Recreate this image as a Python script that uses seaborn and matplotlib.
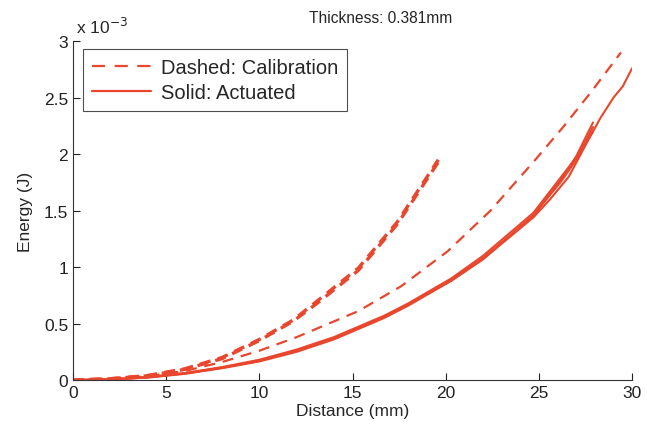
import matplotlib
matplotlib.use("Agg")
import matplotlib.pyplot as plt
import seaborn as sns
import pandas as pd
from matplotlib.lines import Line2D

RED = '#E8472E'

# calibration runs (dashed), energy in mJ
cal_steep_x = [0, 2, 4, 6, 8, 10, 11.8, 13.1, 15.3, 17.4, 19.6]
cal_steep_a = [0, 0.012, 0.04, 0.10, 0.20, 0.36, 0.53, 0.70, 0.99, 1.40, 1.95]
cal_steep_b = [0, 0.011, 0.038, 0.095, 0.19, 0.35, 0.52, 0.68, 0.97, 1.38, 1.93]

cal_flat_x = [0, 2, 4, 6, 8, 10, 12, 15.3, 17.6, 20.1, 22.4, 24.7, 26.3, 27.8, 29.4]
cal_flat_e = [0, 0.01, 0.035, 0.08, 0.16, 0.26, 0.38, 0.61, 0.83, 1.14, 1.50, 1.93, 2.24, 2.55, 2.90]

# actuated runs (solid)
act_x = [0, 2, 4, 6, 8, 10, 12, 14, 16.7, 18, 20.3, 22, 24.7, 26.2, 27.0, 27.9]
act_1 = [0, 0.005, 0.025, 0.06, 0.11, 0.17, 0.26, 0.37, 0.56, 0.67, 0.89, 1.08, 1.45, 1.78, 1.98, 2.28]
act_2 = [0, 0.006, 0.027, 0.062, 0.115, 0.18, 0.27, 0.38, 0.57, 0.68, 0.90, 1.10, 1.48, 1.80, 1.97, 2.20]
act_3 = [0, 0.004, 0.022, 0.055, 0.105, 0.165, 0.25, 0.36, 0.55, 0.66, 0.88, 1.07, 1.46, 1.76, 1.95, 2.24]

act_long_x = [0, 2, 4, 6, 8, 10, 12, 14, 16.7, 18, 20.3, 22, 24.7, 25.6, 26.6, 27.6, 28.3, 29.0, 29.5, 30.0]
act_long_e = [0, 0.005, 0.024, 0.058, 0.11, 0.17, 0.26, 0.37, 0.56, 0.67, 0.88, 1.07, 1.44, 1.60, 1.80, 2.11, 2.32, 2.50, 2.60, 2.76]

sns.set_style('ticks')
plt.rcParams['font.family'] = ['Liberation Sans', 'DejaVu Sans']
plt.rcParams['xtick.direction'] = 'in'
plt.rcParams['ytick.direction'] = 'in'

fig = plt.figure(figsize=(6.47, 4.39), dpi=100)
ax = fig.add_axes([0.113, 0.132, 0.864, 0.772])

def draw(x, e, lw, ls):
    df = pd.DataFrame({'x': x, 'e': [v * 1e-3 for v in e]})
    sns.lineplot(data=df, x='x', y='e', ax=ax, color=RED, lw=lw, linestyle=ls,
                 sort=False, estimator=None)

for e in (act_1, act_2, act_3):
    draw(act_x, e, 1.5, '-')
draw(act_long_x, act_long_e, 1.5, '-')
draw(cal_flat_x, cal_flat_e, 1.6, (0, (5, 3.5)))
draw(cal_steep_x, cal_steep_a, 2.4, (0, (3.3, 2.2)))
draw(cal_steep_x, cal_steep_b, 2.4, (0.8, (3.3, 2.2)))

ax.set_xlim(0, 30)
ax.set_ylim(0, 3e-3)
ax.set_xticks([0, 5, 10, 15, 20, 25, 30])
ax.set_yticks([0, 0.5e-3, 1e-3, 1.5e-3, 2e-3, 2.5e-3, 3e-3])
ax.set_yticklabels(['0', '0.5', '1', '1.5', '2', '2.5', '3'])
ax.tick_params(labelsize=12.5, length=5, width=0.8, colors='#222222')
sns.despine(ax=ax)
for s in ('left', 'bottom'):
    ax.spines[s].set_color('#333333')
    ax.spines[s].set_linewidth(0.8)

ax.set_xlabel('Distance (mm)', fontsize=12.5, labelpad=2)
ax.set_ylabel('Energy (J)', fontsize=12.5, labelpad=8)
fig.text(0.589, 0.958, 'Thickness: 0.381mm', fontsize=11.2, ha='center', va='center')
ax.text(0.005, 1.015, r'x 10$^{-3}$', transform=ax.transAxes, fontsize=12.5,
        va='bottom', ha='left')

handles = [Line2D([], [], color=RED, lw=1.6, linestyle=(0, (5.9, 4.3))),
           Line2D([], [], color=RED, lw=1.6)]
leg = ax.legend(handles, ['Dashed: Calibration', 'Solid: Actuated'], loc='upper left',
                bbox_to_anchor=(0.018, 0.976), fontsize=14.5, frameon=True, fancybox=False,
                handlelength=2.9, borderpad=0.45, labelspacing=0.3, handletextpad=0.5,
                borderaxespad=0)
leg.get_frame().set_edgecolor('#222222')
leg.get_frame().set_linewidth(0.8)

plt.savefig('out.png', dpi=100)
